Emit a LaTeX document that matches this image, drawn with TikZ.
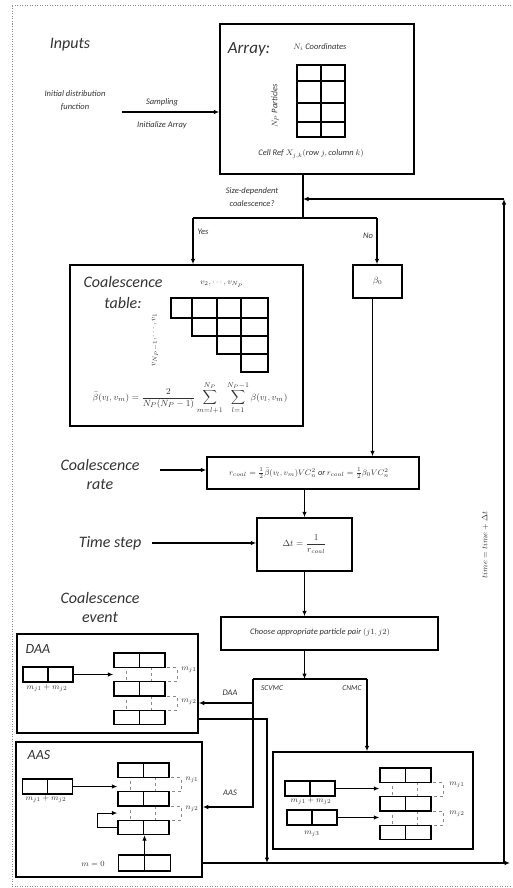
\documentclass[tikz,border=0pt]{standalone}
\usepackage{fontspec}
\setmainfont{Carlito}
\usetikzlibrary{arrows.meta,calc}
\definecolor{txt}{HTML}{333333}
\definecolor{dgray}{HTML}{8A8A8A}
\begin{document}
\begin{tikzpicture}[x=1pt,y=-1pt,
  box/.style={draw, line width=1.5pt, inner sep=0pt},
  conn/.style={line width=1.1pt, -{Latex[length=5.5pt,width=4.5pt]}},
  plain/.style={line width=1.1pt},
  big/.style={font=\fontsize{16}{19}\selectfont\itshape, text=txt, align=center, inner sep=0pt},
  small/.style={font=\fontsize{8.5}{13}\selectfont\itshape, text=txt, align=center, inner sep=0pt},
  lab/.style={font=\fontsize{8}{10}\selectfont, text=txt, inner sep=0pt},
  mth/.style={font=\fontsize{9}{11}\selectfont, text=txt, inner sep=0pt},
  pair/.style={draw, line width=1.3pt, minimum width=51pt, minimum height=14.3pt, inner sep=0pt,
    path picture={\draw[line width=1.3pt] (path picture bounding box.north) -- (path picture bounding box.south);}},
  dpair/.style={draw=dgray, dashed, line width=0.6pt, minimum width=51pt, minimum height=14.3pt, inner sep=0pt,
    path picture={\draw[dgray, dashed, line width=0.6pt] (path picture bounding box.north) -- (path picture bounding box.south);}},
  stack/.pic={
    \node[dpair] (-r2) at (37.5,21.45) {};
    \node[dpair] (-r4) at (37.5,50.05) {};
    \node[pair] (-r1) at (25.5,7.15) {};
    \node[pair] (-r3) at (25.5,35.75) {};
    \node[pair] (-r5) at (25.5,64.35) {};
  },
]
\useasboundingbox (0,0) rectangle (512,888);
% outer dotted frame
\draw[dgray, line width=0.8pt, dash pattern=on 1pt off 1.5pt] (511,5) -- (12,5) -- (12,886) -- (511,886);

% ---------- Inputs / Array ----------
\node[big] (inputs) at (70,45) {Inputs};
\node[box, minimum width=194pt, minimum height=150pt] (array) at (317,99) {};
\node[big, font=\fontsize{17}{20}\selectfont\itshape] (arrlab) at (249,49) {Array:};
\node[small] (ncoord) at (320,47) {$N_i$ Coordinates};
\node[small, rotate=90] (npart) at (275,106) {$N_P$ Particles};
\node[small] (cellref) at (311,154) {Cell Ref $X_{j,k}(\mathit{row}\ j, \mathit{column}\ k)$};
\draw[line width=1.4pt] (297,65) rectangle (345,137);
\draw[line width=1.4pt] (321,65) -- (321,137) (297,81) -- (345,81) (297,103) -- (345,103) (297,122) -- (345,122);

\node[small] (idf) at (75,101) {Initial distribution\\function};
\coordinate (samS) at (122,112);
\draw[conn] (samS) -- (array.west |- samS);
\node[small] (samp) at (162,102) {Sampling};
\node[small] (init) at (162,125) {Initialize Array};

% ---------- decision ----------
\coordinate (j) at (303,218);
\coordinate (jy) at (193,218);
\coordinate (jn) at (377,218);
\draw[plain] (j |- array.south) -- (j);
\draw[plain] (jy) -- (jn);
\node[small] (sdq) at (252,197) {Size-dependent\\coalescence?};
\node[small] (yes) at (203,232) {Yes};
\node[small] (no) at (368,236) {No};

% ---------- coalescence table ----------
\node[box, minimum width=233pt, minimum height=161pt] (ctab) at (186.5,345.5) {};
\draw[conn] (jy) -- (jy |- ctab.north);
\node[big, font=\fontsize{16}{21}\selectfont\itshape] (ctlab) at (123,292.5) {Coalescence\\table:};
\node[mth, font=\fontsize{8}{10}\selectfont] (vtop) at (222,284) {$v_2,\cdots,v_{N_P}$};
\node[mth, font=\fontsize{8}{10}\selectfont, rotate=90] (vside) at (155,340) {$v_{N_P-1},\cdots,v_1$};
\foreach \r/\xa in {0/171,1/192,2/217,3/241}{
  \pgfmathsetmacro{\ya}{{298,318,336,354}[\r]}
  \pgfmathsetmacro{\yb}{{318,336,354,372}[\r]}
  \draw[line width=1.4pt] (\xa,\ya) rectangle (268,\yb);
  \foreach \xc in {192,217,241}{
    \ifdim \xc pt>\xa pt \draw[line width=1.4pt] (\xc,\ya) -- (\xc,\yb); \fi
  }
}
\node[mth, font=\fontsize{9.5}{11}\selectfont] (bform) at (190,398) {$\displaystyle \bar\beta(v_l,v_m)=\frac{2}{N_P(N_P-1)}\sum_{m=l+1}^{N_P}\;\sum_{l=1}^{N_P-1}\beta(v_l,v_m)$};

% ---------- beta0 ----------
\node[box, minimum width=49pt, minimum height=33pt, text=txt, font=\fontsize{9}{11}\selectfont] (beta) at (377.5,281.5) {$\beta_0$};
\draw[conn] (jn) -- (jn |- beta.north);

% ---------- rate ----------
\node[box, minimum width=212pt, minimum height=32pt] (rate) at (313,473) {};
\node[mth, font=\fontsize{8.5}{10}\selectfont] (ratef) at (309,473) {$r_{coal}=\frac{1}{2}\bar\beta(v_l,v_m)VC_n^2\ \mathit{or}\,r_{coal}=\frac{1}{2}\beta_0VC_n^2$};
\draw[conn] ([xshift=-5pt]beta.south) -- ([xshift=-5pt]beta.south |- rate.north);
\node[big] (crlab) at (100,474) {Coalescence\\rate};
\coordinate (crS) at (160,470);
\draw[conn] (crS) -- (rate.west |- crS);

% ---------- time step ----------
\node[box, minimum width=95pt, minimum height=53pt, text=txt, font=\fontsize{9}{11}\selectfont] (dt) at (304.5,544.5) {$\Delta t=\displaystyle\frac{1}{r_{coal}}$};
\draw[conn] (dt.north |- rate.south) -- (dt.north);
\node[big] (tslab) at (110,543) {Time step};
\coordinate (tsS) at (152,543);
\draw[conn] (tsS) -- (dt.west |- tsS);

% ---------- choose ----------
\node[big] (celab) at (100,607.5) {Coalescence\\event};
\node[box, minimum width=217pt, minimum height=33pt] (choose) at (329.5,633.5) {};
\node[small, font=\fontsize{8.5}{10}\selectfont\itshape] (chtxt) at (320,632) {Choose appropriate particle pair $(j1,j2)$};
\draw[conn] (dt.south) -- (dt.south |- choose.north);
\coordinate (sc) at (253,679);
\coordinate (cn) at (367,679);
\draw[conn] (dt.south |- choose.south) -- (dt.south |- sc);
\draw[plain] (sc) -- (cn);
\node[lab, font=\fontsize{7.5}{9}\selectfont\itshape] (scv) at (272,688) {SCVMC};
\node[lab, font=\fontsize{7.5}{9}\selectfont\itshape] (cnm) at (352,688) {CNMC};

% ---------- DAA box ----------
\node[box, minimum width=181pt, minimum height=99pt] (daa) at (107.5,683.5) {};
\node[big, font=\fontsize{14}{16}\selectfont\itshape] (daalab) at (38,649) {DAA};
\pic (d) at (114,653) {stack};
\node[pair, minimum width=50pt, minimum height=15pt] (dpl) at (48,674.5) {};
\node[lab] (dpll) at (47,688) {$m_{j1}+m_{j2}$};
\draw[conn] (dpl.east) -- (dpl.east -| d-r1.west);
\node[lab] (dm1) at (189,670) {$m_{j1}$};
\node[lab] (dm2) at (189,702) {$m_{j2}$};

% ---------- AAS box ----------
\node[box, minimum width=186pt, minimum height=135pt] (aas) at (109,809.5) {};
\node[big, font=\fontsize{14}{16}\selectfont\itshape] (aaslab) at (39,755) {AAS};
\pic (a) at (118,763) {stack};
\node[pair, minimum width=50pt, minimum height=15pt] (apl) at (47.5,786.5) {};
\node[lab] (apll) at (46,799) {$m_{j1}+m_{j2}$};
\draw[conn] (apl.east) -- (apl.east -| a-r1.west);
\node[lab] (an1) at (192,780) {$n_{j1}$};
\node[lab] (an2) at (192,809) {$n_{j2}$};
\draw[conn] (a-r5.west) -- ++(-20,0) |- (a-r4.west -| a-r5.west);
\node[pair, minimum width=52pt, minimum height=16pt] (azero) at (144.5,863) {};
\node[lab, font=\fontsize{8.5}{10}\selectfont] (m0) at (93,864) {$m=0$};
\draw[conn] (azero.north) -- (azero.north |- a-r5.south);

% ---------- CNMC box ----------
\node[box, minimum width=200pt, minimum height=97pt] (cbox) at (373,800.5) {};
\pic (c) at (380,768) {stack};
\node[pair, minimum width=50pt, minimum height=15pt] (cpl1) at (310,788.5) {};
\node[pair, minimum width=50pt, minimum height=15pt] (cpl2) at (312,817.5) {};
\node[lab] (cpl1l) at (311,801) {$m_{j1}+m_{j2}$};
\node[lab] (cpl2l) at (312,834) {$m_{j3}$};
\draw[conn] (cpl1.east) -- (cpl1.east -| c-r1.west);
\draw[conn] (cpl2.east) -- (cpl2.east -| c-r1.west);
\node[lab] (cm1) at (457,785) {$m_{j1}$};
\node[lab] (cm2) at (457,814) {$m_{j2}$};
\draw[conn] (cn) -- (cn |- cbox.north);

% ---------- SCVMC branches ----------
\coordinate (daaY) at (0,703);
\coordinate (aasY) at (0,807);
\draw[conn] (sc) |- (aas.east |- aasY);
\draw[conn] (sc |- daaY) -- (daa.east |- daaY);
\node[small] (daaarr) at (230,693) {DAA};
\node[small] (aasarr) at (230,793) {AAS};

% ---------- output / loop ----------
\coordinate (outY) at (0,719);
\coordinate (bj) at (267,863);
\coordinate (bR) at (510,863);
\coordinate (lB) at (504,863);
\coordinate (lT) at (504,199);
\draw[conn] (daa.east |- outY) -| (bj);
\draw[conn] (aas.east |- bj) -- (bR);
\draw[conn] (lB) -- (lT);
\draw[conn] (lT) -- (j |- lT);
\node[mth, font=\fontsize{8.5}{10}\selectfont, rotate=90] (tlab) at (485,545) {$time=time+\Delta t$};
\end{tikzpicture}
\end{document}
